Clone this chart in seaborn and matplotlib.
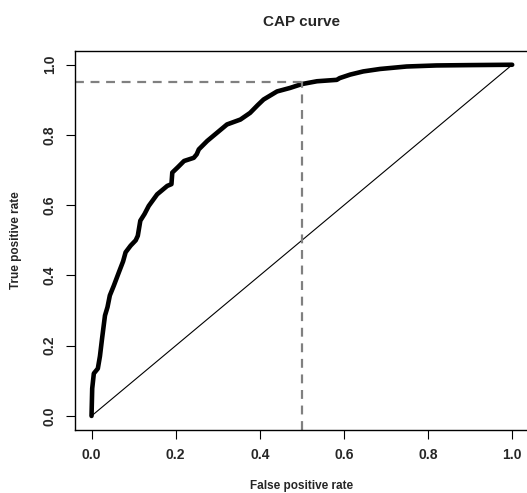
import pandas as pd
import matplotlib
matplotlib.use("Agg")
import matplotlib.pyplot as plt
import seaborn as sns

# CAP curve points
fpr = [0, 0.0016, 0.0055, 0.015, 0.02, 0.025, 0.032, 0.038, 0.0435, 0.053,
       0.065, 0.075, 0.081, 0.093, 0.105, 0.11, 0.116, 0.126, 0.136, 0.156,
       0.18, 0.19, 0.192, 0.205, 0.22, 0.243, 0.25, 0.255, 0.275, 0.298,
       0.322, 0.354, 0.377, 0.395, 0.409, 0.441, 0.472, 0.5, 0.536, 0.583,
       0.59, 0.615, 0.646, 0.686, 0.749, 0.82, 0.9, 1.0]
tpr = [0, 0.078, 0.121, 0.135, 0.17, 0.22, 0.286, 0.31, 0.343, 0.371,
       0.409, 0.44, 0.466, 0.485, 0.5, 0.513, 0.556, 0.575, 0.598, 0.631,
       0.655, 0.66, 0.693, 0.708, 0.726, 0.735, 0.745, 0.759, 0.783, 0.806,
       0.83, 0.844, 0.863, 0.885, 0.901, 0.924, 0.934, 0.945, 0.953, 0.957,
       0.962, 0.972, 0.981, 0.988, 0.995, 0.998, 0.999, 1.0]

# random model diagonal and cutoff
diag = [0.0, 1.0]
cutoff_fpr = 0.5
cutoff_tpr = 0.95

ticks = [0.0, 0.2, 0.4, 0.6, 0.8, 1.0]
tick_labels = ["0.0", "0.2", "0.4", "0.6", "0.8", "1.0"]

sns.set_style("white")
plt.rcParams['font.family'] = ['Liberation Sans', 'DejaVu Sans']
plt.rcParams['font.weight'] = 'bold'

fig = plt.figure(figsize=(5.27, 4.93), dpi=100)
ax = fig.add_axes([74.7 / 527, 1 - 430 / 493, (529 - 74.7) / 527, (430 - 50.7) / 493])

df = pd.DataFrame({'fpr': fpr, 'tpr': tpr})
sns.lineplot(data=df, x='fpr', y='tpr', sort=False, estimator=None, ax=ax,
             color='black', linewidth=3.3, solid_capstyle='round', solid_joinstyle='round')
sns.lineplot(x=diag, y=diag, sort=False, estimator=None, ax=ax,
             color='black', linewidth=0.8)

ax.set_xlim(-0.04, 1.04)
ax.set_ylim(-0.04, 1.04)
x_lo, _ = ax.get_xlim()
y_lo, _ = ax.get_ylim()

# cutoff guide lines
ax.hlines(cutoff_tpr, x_lo, cutoff_fpr, colors='#808080', linewidth=1.6,
          linestyles=(0, (4, 3)))
ax.vlines(cutoff_fpr, y_lo, cutoff_tpr, colors='#808080', linewidth=1.6,
          linestyles=(0, (4, 3)))

ax.set_xticks(ticks)
ax.set_xticklabels(tick_labels, fontsize=10, fontweight='bold')
ax.set_yticks(ticks)
ax.set_yticklabels(tick_labels, fontsize=10, fontweight='bold', rotation=90, va='center')
ax.tick_params(axis='both', direction='out', length=6.5, width=0.8, color='black',
               pad=6.5, bottom=True, left=True)

for s in ax.spines.values():
    s.set_color('black')
    s.set_linewidth(1.0)

ax.set_xlabel('False positive rate', fontsize=8.5, fontweight='bold')
ax.xaxis.set_label_coords(0.5, -0.132)
ax.set_ylabel('True positive rate', fontsize=8.5, fontweight='bold')
ax.yaxis.set_label_coords(-0.117, 0.5)
ax.set_title('CAP curve', fontsize=11, fontweight='bold', pad=18)

fig.savefig('out.png', dpi=100)
